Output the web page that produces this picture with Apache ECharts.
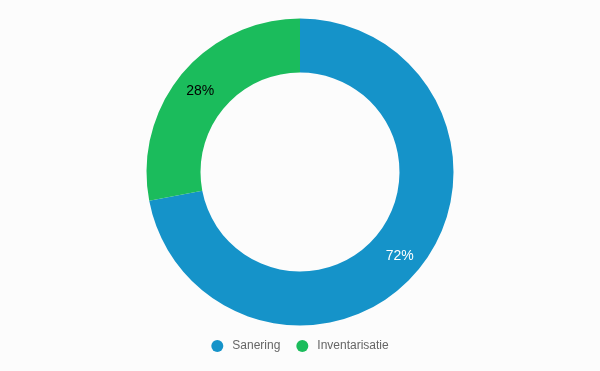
<!DOCTYPE html>
<html><head><meta charset="utf-8">
<script src="https://cdn.jsdelivr.net/npm/echarts@6/dist/echarts.min.js"></script>
<style>html,body{margin:0;padding:0;background:#fcfcfc}#c{width:600px;height:371px}</style>
</head><body><div id="c"></div>
<script>
const categories = ['Sanering', 'Inventarisatie'];
const values = [72, 28];
const colors = ['#1593c9', '#1bbc5c'];
const labelColors = ['#ffffff', '#000000'];

const chart = echarts.init(document.getElementById('c'));
chart.setOption({
  backgroundColor: '#fcfcfc',
  animation: false,
  color: colors,
  legend: {
    top: 335, left: 'center', icon: 'circle', itemWidth: 12, itemHeight: 12, itemGap: 16,
    textStyle: { color: '#666', fontSize: 12, padding: [0, 0, 0, 4], fontFamily: 'Liberation Sans, Arial, sans-serif' },
    data: categories
  },
  series: [{
    type: 'pie',
    center: [300, 172],
    radius: [99.5, 153.5],
    startAngle: 90,
    avoidLabelOverlap: false,
    label: {
      show: true, position: 'inside', formatter: '{d}%', fontSize: 14,
      offset: [0, 1.5],
      fontFamily: 'Liberation Sans, Arial, sans-serif'
    },
    labelLine: { show: false },
    data: categories.map((c, i) => ({
      name: c, value: values[i],
      label: { color: labelColors[i] }
    }))
  }]
});
</script></body></html>
